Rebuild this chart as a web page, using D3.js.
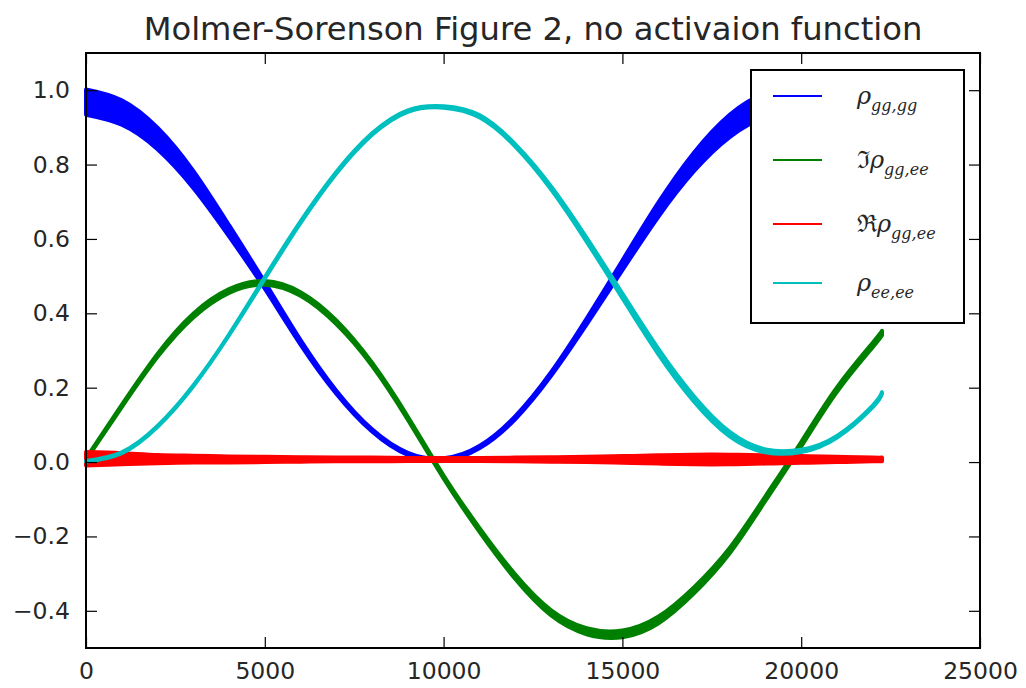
<!DOCTYPE html>
<html>
<head>
<meta charset="utf-8">
<script src="https://cdn.jsdelivr.net/npm/d3@7"></script>
<style>
  html, body { margin: 0; padding: 0; background: #fff; }
  svg text { font-family: "DejaVu Sans", sans-serif; fill: #262626; }
</style>
</head>
<body>
<svg id="chart" width="1026" height="688"></svg>
<script>
// time samples
var tVals = [0, 1000, 2000, 3000, 4000, 5000, 6000, 7000, 8000, 9000, 10000, 11000,
             12000, 13000, 14000, 15000, 16000, 17000, 18000, 19000, 20000, 21000, 22000, 22260];

// centre of each band and half-width of the fast wiggle
var rhoGG  = [0.968, 0.940, 0.870, 0.760, 0.622, 0.475, 0.322, 0.188, 0.085, 0.022, 0.007, 0.040,
              0.119, 0.236, 0.378, 0.529, 0.678, 0.807, 0.904, 0.958, 0.960, 0.917, 0.833, 0.797];
var rhoGGw = [0.034, 0.033, 0.029, 0.023, 0.015, 0.009, 0.006, 0.004, 0.003, 0.003, 0.003, 0.003,
              0.004, 0.005, 0.008, 0.013, 0.019, 0.025, 0.030, 0.033, 0.034, 0.034, 0.034, 0.034];

var imGE   = [0.008, 0.151, 0.287, 0.394, 0.460, 0.482, 0.452, 0.376, 0.263, 0.118, -0.040, -0.182,
              -0.308, -0.405, -0.455, -0.462, -0.425, -0.345, -0.238, -0.098, 0.048, 0.195, 0.315, 0.347];
var imGEw  = [0.002, 0.003, 0.004, 0.005, 0.005, 0.005, 0.005, 0.005, 0.004, 0.004, 0.004, 0.005,
              0.006, 0.007, 0.008, 0.009, 0.009, 0.008, 0.007, 0.006, 0.006, 0.006, 0.006, 0.006];

var reGE   = [0.009, 0.009, 0.008, 0.008, 0.007, 0.007, 0.007, 0.007, 0.007, 0.007, 0.007, 0.007,
              0.007, 0.007, 0.007, 0.007, 0.007, 0.007, 0.007, 0.007, 0.007, 0.007, 0.007, 0.007];
var reGEw  = [0.018, 0.015, 0.011, 0.009, 0.008, 0.007, 0.006, 0.005, 0.005, 0.004, 0.004, 0.004,
              0.005, 0.006, 0.007, 0.009, 0.011, 0.013, 0.013, 0.011, 0.009, 0.007, 0.005, 0.005];

var rhoEE  = [0.002, 0.025, 0.096, 0.205, 0.342, 0.495, 0.645, 0.778, 0.882, 0.944, 0.955, 0.930,
              0.852, 0.738, 0.598, 0.447, 0.298, 0.170, 0.075, 0.030, 0.030, 0.068, 0.150, 0.186];
var rhoEEw = [0.001, 0.001, 0.001, 0.001, 0.001, 0.002, 0.002, 0.002, 0.002, 0.002, 0.002, 0.003,
              0.003, 0.004, 0.005, 0.006, 0.007, 0.007, 0.006, 0.004, 0.003, 0.002, 0.002, 0.002];

var xTicks = [0, 5000, 10000, 15000, 20000, 25000];
var yTicks = [-0.4, -0.2, 0.0, 0.2, 0.4, 0.6, 0.8, 1.0];

var series = [
  { name: "gg,gg", prefix: "",  vals: rhoGG, half: rhoGGw, color: "#0000ff" },
  { name: "gg,ee", prefix: "\u2111", vals: imGE,  half: imGEw,  color: "#008000" },
  { name: "gg,ee", prefix: "\u211C", vals: reGE,  half: reGEw,  color: "#ff0000" },
  { name: "ee,ee", prefix: "",  vals: rhoEE, half: rhoEEw, color: "#00bfbf" }
];

var svg = d3.select("#chart");
var axLeft = 86, axRight = 980, axTop = 53, axBottom = 648;

var x = d3.scaleLinear().domain([0, 25000]).range([axLeft, axRight]);
var y = d3.scaleLinear().domain([-0.5, 1.1]).range([axBottom, axTop]);

// title
svg.append("text")
  .attr("x", (axLeft + axRight) / 2)
  .attr("y", 40)
  .attr("text-anchor", "middle")
  .style("font-size", "32.2px")
  .text("Molmer-Sorenson Figure 2, no activaion function");

// curves
var plot = svg.append("g");
series.forEach(function (s) {
  var area = d3.area()
    .x(function (d, i) { return x(tVals[i]); })
    .y0(function (d, i) { return y(d - s.half[i]); })
    .y1(function (d, i) { return y(d + s.half[i]); })
    .curve(d3.curveNatural);
  plot.append("path")
    .datum(s.vals)
    .attr("d", area)
    .attr("fill", s.color)
    .attr("stroke", s.color)
    .attr("stroke-width", 4)
    .attr("stroke-linejoin", "round");
});

// axes, matplotlib classic: ticks inside on all four sides
var tickLen = 11;
svg.append("g")
  .attr("transform", "translate(0," + axBottom + ")")
  .call(d3.axisBottom(x).tickValues(xTicks).tickSizeInner(-tickLen).tickSizeOuter(0).tickPadding(14).tickFormat(d3.format("d")));
svg.append("g")
  .attr("transform", "translate(0," + axTop + ")")
  .call(d3.axisTop(x).tickValues(xTicks).tickSizeInner(-tickLen).tickSizeOuter(0).tickFormat(""));
svg.append("g")
  .attr("transform", "translate(" + axLeft + ",0)")
  .call(d3.axisLeft(y).tickValues(yTicks).tickSizeInner(-tickLen).tickSizeOuter(0).tickPadding(16).tickFormat(d3.format(".1f")));
svg.append("g")
  .attr("transform", "translate(" + axRight + ",0)")
  .call(d3.axisRight(y).tickValues(yTicks).tickSizeInner(-tickLen).tickSizeOuter(0).tickFormat(""));

svg.selectAll(".domain").remove();
svg.selectAll(".tick line").attr("stroke", "#000").attr("stroke-width", 1.2);
svg.selectAll(".tick text").style("font-size", "23.5px").style("font-family", "DejaVu Sans, sans-serif").attr("fill", "#262626");

svg.append("rect")
  .attr("x", axLeft).attr("y", axTop)
  .attr("width", axRight - axLeft).attr("height", axBottom - axTop)
  .attr("fill", "none").attr("stroke", "#000").attr("stroke-width", 2);

// legend
var legend = svg.append("g");
legend.append("rect")
  .attr("x", 751).attr("y", 70).attr("width", 213).attr("height", 253)
  .attr("fill", "#fff").attr("stroke", "#000").attr("stroke-width", 2);

var rowY = [96, 160, 224, 283];
series.forEach(function (s, i) {
  legend.append("line")
    .attr("x1", 773).attr("x2", 822)
    .attr("y1", rowY[i]).attr("y2", rowY[i])
    .attr("stroke", s.color).attr("stroke-width", 2);
  var t = legend.append("text")
    .attr("x", 857).attr("y", rowY[i] + 8)
    .style("font-family", "DejaVu Serif, serif")
    .style("font-size", "24px");
  if (s.prefix) t.append("tspan").style("font-style", "normal").text(s.prefix);
  t.append("tspan").style("font-style", "italic").text("\u03C1");
  t.append("tspan").style("font-style", "italic").style("font-size", "16px").attr("dy", 7).text(s.name);
});
</script>
</body>
</html>
